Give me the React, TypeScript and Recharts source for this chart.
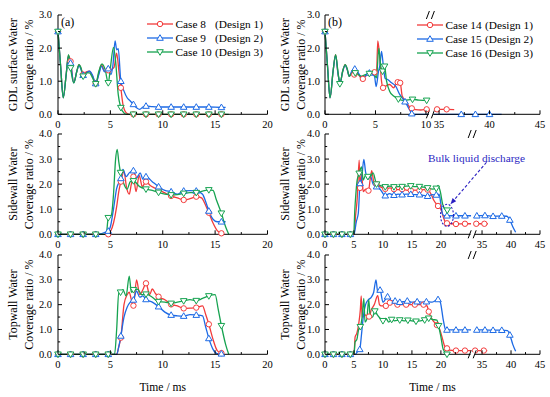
import React from 'react';
import { LineChart, Line, XAxis, YAxis, ReferenceDot, Legend } from 'recharts';

type P = [number, number, number?];

const RED = '#f23b3b';
const BLUE = '#1d6ae5';
const GREEN = '#16a350';
const ANN = '#2a1fc2';
const FONT = '"Liberation Serif", "Times New Roman", serif';

// ---------- labels ----------
const casesA = ['Case 8', 'Case 9', 'Case 10'];
const casesB = ['Case 14', 'Case 15', 'Case 16'];
const designs = ['(Design 1)', '(Design 2)', '(Design 3)'];
const yLabelGdl: [string, string] = ['GDL surface Water', 'Coverage ratio / %'];
const yLabelSide: [string, string] = ['Sidewall Water', 'Coverage ratio / %'];
const yLabelTop: [string, string] = ['Topwall Water', 'Coverage ratio / %'];
const xTitle = 'Time / ms';
const annotText = 'Bulk liquid discharge';
const annotAt: [number, number] = [21.05, 0.76];

// ---------- ticks ----------
const xMajorA = [0, 5, 10, 15, 20];
const xMinorA = [2.5, 7.5, 12.5, 17.5];
const xMajorBTop = [0, 5, 10, 35, 40, 45];
const xMinorBTop = [2.5, 7.5, 37.5, 42.5];
const xMajorB = [0, 5, 10, 15, 20, 35, 40, 45];
const xMinorB = [2.5, 7.5, 12.5, 17.5, 22.5, 37.5, 42.5];
const yMajor3 = [0, 1, 2, 3];
const yMinor3 = [0.5, 1.5, 2.5];
const yMajor4 = [0, 1, 2, 3, 4];
const yMinor4 = [0.5, 1.5, 2.5, 3.5];

// axis breaks [break at, resume at]
const breakTop: [number, number] = [10.5, 34.2];
const breakLow: [number, number] = [25.5, 33.4];

// ---------- data: [time ms, coverage %, marker?] ----------
const gdlCase8: P[] = [[0,2.5,1],[0.25,1.45],[0.5,0.5],[0.78,1.2],[1.0,1.78],[1.2,1.6,1],[1.5,0.96],[1.8,1.3],[2.0,1.5],[2.2,1.38],[2.4,1.2,1],[2.7,1.28],[3.0,1.3],[3.3,1.15],[3.6,0.93,1],[3.9,1.25],[4.15,1.5],[4.45,1.3],[4.8,1.33,1],[5.1,1.36],[5.35,1.42],[5.6,1.85],[5.8,1.35],[6.0,0.8,1],[6.2,0.3],[6.5,0.05],[6.8,0],[7.2,0,1],[8.4,0,1],[9.6,0,1],[10.8,0,1],[12.0,0,1],[13.2,0,1],[14.4,0,1],[15.6,0,1],[16.0,0]];
const gdlCase9: P[] = [[0,2.5,1],[0.25,1.45],[0.5,0.5],[0.78,1.2],[1.0,1.75],[1.2,1.55,1],[1.5,0.95],[1.8,1.3],[2.0,1.48],[2.2,1.35],[2.4,1.18,1],[2.7,1.25],[3.0,1.3],[3.3,1.18],[3.6,0.93,1],[3.9,1.2],[4.15,1.45],[4.45,1.28],[4.8,1.38,1],[5.05,1.2],[5.25,1.5],[5.45,2.22],[5.6,1.95],[5.75,1.98],[6.0,1.0,1],[6.3,0.7],[6.6,0.5],[6.9,0.4],[7.2,0.3,1],[7.5,0.2],[7.8,0.15],[8.1,0.22],[8.4,0.25,1],[9.0,0.23],[9.6,0.22,1],[10.8,0.22,1],[12.0,0.22,1],[13.2,0.22,1],[14.4,0.22,1],[15.6,0.21,1],[16.0,0.21]];
const gdlCase10: P[] = [[0,2.5,1],[0.25,1.45],[0.5,0.5],[0.78,1.2],[1.0,1.8],[1.2,1.4,1],[1.5,0.95],[1.8,1.3],[2.0,1.5],[2.2,1.4],[2.4,1.15,1],[2.7,1.25],[3.0,1.25],[3.3,1.1],[3.6,0.92,1],[3.9,1.3],[4.2,1.52],[4.5,1.35],[4.8,0.95,1],[5.0,1.4],[5.3,2.02],[5.5,1.6],[5.75,0.6],[6.0,0.2,1],[6.3,0.04],[6.6,0],[7.2,0,1],[8.4,0,1],[9.6,0,1],[10.8,0,1],[12.0,0,1],[13.2,0,1],[14.4,0,1],[15.6,0,1],[16.3,0]];

const gdlCase14: P[] = [[0,2.5,1],[0.25,1.45],[0.5,0.5],[0.8,1.3],[1.05,1.8],[1.3,1.2],[1.5,0.95],[1.75,1.3],[2.0,1.5],[2.2,1.35],[2.4,1.15],[2.65,1.25],[2.9,1.2,1],[3.2,1.25],[3.5,1.12],[3.75,1.07,1],[4.0,1.15],[4.3,1.2],[4.6,1.22],[4.9,1.27,1],[5.1,1.2],[5.23,2.22],[5.4,1.8],[5.6,1.0],[5.75,0.8,1],[6.0,0.85],[6.4,0.9],[6.8,0.8],[7.0,0.9],[7.2,0.97,1],[7.45,0.95,1],[7.65,0.55],[8.0,0.4],[8.3,0.25],[8.6,0.18,1],[9.0,0.14],[9.5,0.13],[10.07,0.15,1],[10.4,0.14],[34.5,0.14],[34.8,0.15,1],[35.75,0.15,1],[36.5,0.14]];
const gdlCase15: P[] = [[0,2.5,1],[0.25,1.45],[0.5,0.5],[0.8,1.3],[1.05,1.78],[1.3,1.2],[1.5,0.95],[1.75,1.3],[2.0,1.48],[2.2,1.35],[2.4,1.15],[2.65,1.3],[2.95,1.37,1],[3.2,1.3],[3.5,1.15],[3.8,1.1],[4.1,1.2],[4.4,1.25,1],[4.7,1.2],[4.9,1.15],[5.07,0.84],[5.3,1.3],[5.45,1.5],[5.6,1.9],[5.8,1.4],[5.95,1.09],[6.2,1.05],[6.6,0.95],[7.0,0.85],[7.4,0.6],[7.93,0.38,1],[8.3,0.18],[8.6,0.02,1],[8.8,0],[10.4,0],[34.5,0],[37.2,0,1],[38.6,0,1],[40.0,0,1],[41.2,0]];
const gdlCase16: P[] = [[0,2.5,1],[0.25,1.45],[0.5,0.5],[0.8,1.3],[1.05,1.8],[1.3,1.25],[1.47,0.92,1],[1.75,1.3],[2.0,1.5],[2.2,1.38],[2.4,1.15],[2.7,1.25],[3.0,1.25,1],[3.3,1.2],[3.6,1.15],[4.0,1.2],[4.4,1.23,1],[4.8,1.25],[5.1,1.1],[5.33,2.0],[5.5,1.5],[5.7,1.3,1],[5.9,1.45,1],[6.1,1.0],[6.4,0.7],[6.8,0.55],[7.27,0.46,1],[7.8,0.42],[8.67,0.45,1],[9.3,0.43],[10.07,0.42,1],[10.3,0.42]];

const sideCase8: P[] = [[0,0,1],[1.2,0,1],[2.4,0,1],[3.6,0,1],[4.8,0,1],[5.0,0.1],[5.3,0.45],[5.6,1.1],[5.8,1.7],[6.0,2.1,1],[6.3,2.5],[6.55,1.85],[6.8,1.6],[7.0,2.0],[7.2,2.3,1],[7.45,1.7],[7.75,2.35],[8.05,1.9],[8.4,2.1,1],[8.8,1.95],[9.2,1.85],[9.6,1.77,1],[10.2,1.65],[10.8,1.53,1],[11.4,1.45],[12.0,1.37,1],[12.6,1.42],[13.2,1.5,1],[13.7,1.45],[14.1,1.15],[14.4,0.86,1],[14.8,0.45],[15.2,0.15],[15.6,0.04,1],[15.8,0]];
const sideCase9: P[] = [[0,0,1],[1.2,0,1],[2.4,0,1],[3.6,0,1],[4.8,0.13,1],[5.0,0.3],[5.26,0.9],[5.6,1.83],[6.0,2.23,1],[6.2,2.59],[6.5,2.3],[6.8,2.45],[7.2,2.54,1],[7.5,2.25],[7.85,2.45],[8.1,2.2],[8.4,2.3,1],[9.0,2.1],[9.6,1.9,1],[10.2,1.75],[10.8,1.7,1],[11.4,1.6],[12.0,1.73,1],[12.6,1.74],[13.2,1.73,1],[13.8,1.6],[14.1,1.3],[14.4,0.93,1],[14.8,0.6],[15.2,0.5],[15.6,0.5,1],[16.0,0.5]];
const sideCase10: P[] = [[0,0,1],[1.2,0,1],[2.4,0,1],[3.6,0,1],[4.6,0],[4.8,0.66,1],[5.1,0.77],[5.3,1.6],[5.5,3.0],[5.65,3.39],[5.8,2.9],[5.97,2.46,1],[6.3,2.0],[6.6,1.8],[6.9,2.1],[7.2,2.13,1],[7.8,1.9],[8.4,1.8,1],[9.0,1.75],[9.6,1.67,1],[10.2,1.6],[10.8,1.57,1],[11.4,1.58],[12.0,1.63,1],[12.6,1.66],[13.2,1.66,1],[13.8,1.72],[14.4,1.77,1],[14.8,1.75],[15.1,1.4],[15.6,0.84,1],[16.0,0.3],[16.3,0]];

const sideCase14: P[] = [[0,0,1],[1.46,0,1],[2.92,0,1],[4.38,0,1],[5.0,0],[5.3,0.8],[5.55,1.4],[5.9,2.96],[6.05,1.85,1],[6.3,2.4],[6.6,1.7],[7.0,1.8],[7.5,1.74,1],[7.8,2.2],[8.07,2.54],[8.4,2.1],[8.9,2.0,1],[9.5,1.9],[10.4,1.81,1],[11.2,1.85],[11.9,1.8,1],[12.6,1.78],[13.3,1.8,1],[14.0,1.76],[14.8,1.75,1],[15.5,1.76],[16.3,1.75,1],[17.0,1.78],[17.7,1.78,1],[18.3,1.6],[18.8,1.35],[19.5,1.13,1],[20.0,1.0],[20.4,0.7],[20.8,0.47],[21.05,0.44,1],[22.6,0.41,1],[24.15,0.42,1],[25.2,0.42],[33.8,0.42],[34.0,0.42,1],[35.4,0.42,1],[36.0,0.42]];
const sideCase15: P[] = [[0,0,1],[1.46,0,1],[2.92,0,1],[4.38,0,1],[5.0,0],[5.4,0.5],[5.75,0.85],[6.05,2.03,1],[6.3,2.16],[6.7,2.99],[7.0,2.49],[7.45,2.2],[7.8,2.35],[8.3,2.0],[8.9,1.9,1],[9.5,1.8],[10.4,1.54,1],[11.1,1.62],[11.9,1.56,1],[12.6,1.6],[13.3,1.58,1],[14.0,1.6],[14.8,1.6,1],[15.5,1.58],[16.3,1.58,1],[17.0,1.55],[17.7,1.52,1],[18.5,1.58],[19.2,1.57,1],[19.7,1.6],[20.0,1.2],[20.3,0.8],[20.6,0.74],[21.05,0.74,1],[22.6,0.74,1],[24.15,0.74,1],[25.2,0.74],[33.8,0.74],[34.1,0.74,1],[35.5,0.75,1],[36.9,0.72,1],[38.4,0.73,1],[39.3,0.72],[39.8,0.57,1],[40.3,0.3],[40.8,0.08]];
const sideCase16: P[] = [[0,0,1],[1.46,0,1],[2.92,0,1],[4.38,0,1],[4.95,0],[5.15,1.0],[5.3,1.53],[5.55,2.16],[5.9,2.43,1],[6.3,2.69],[6.6,2.16],[7.0,2.36],[7.4,2.3,1],[7.75,2.29],[8.3,2.45],[8.9,2.0,1],[9.5,1.95],[10.4,1.89,1],[11.2,1.92],[11.9,1.89,1],[12.6,1.9],[13.3,1.9,1],[14.0,1.92],[14.8,1.93,1],[15.5,1.9],[16.3,1.9,1],[17.0,1.88],[17.7,1.85,1],[18.5,1.8],[19.2,1.83,1],[19.5,1.95],[19.9,1.7],[20.3,1.2],[20.7,1.0],[21.1,0.96,1],[21.3,0.95]];

const topCase8: P[] = [[0,0,1],[1.2,0,1],[2.4,0,1],[3.6,0,1],[4.8,0,1],[5.6,0],[5.8,0.3],[6.0,0.67,1],[6.3,2.0],[6.6,2.4],[6.8,2.5],[7.0,2.2],[7.2,1.96,1],[7.5,3.0],[7.8,2.4],[8.1,2.6],[8.4,2.86,1],[8.75,2.4],[9.0,2.63],[9.3,2.45],[9.6,2.32,1],[10.2,2.2],[10.8,2.01,1],[11.4,1.95],[12.0,1.85,1],[12.6,1.86],[13.2,1.88,1],[13.8,1.95],[14.1,1.6],[14.4,1.21,1],[14.8,0.6],[15.2,0.15],[15.6,0.05,1],[15.8,0]];
const topCase9: P[] = [[0,0,1],[1.2,0,1],[2.4,0,1],[3.6,0,1],[4.8,0,1],[5.6,0],[5.8,0.3],[6.0,0.74,1],[6.3,1.5],[6.6,1.9],[6.9,2.1],[7.2,2.19,1],[7.5,2.55],[7.8,2.3],[8.1,2.35],[8.4,2.21,1],[9.0,2.1],[9.6,1.92,1],[10.2,1.7],[10.8,1.58,1],[11.4,1.55],[12.0,1.54,1],[12.6,1.6],[13.2,1.58,1],[13.8,1.55],[14.1,1.1],[14.4,0.64,1],[14.8,0.2],[15.2,0.03],[15.6,0.02,1]];
const topCase10: P[] = [[0,0,1],[1.2,0,1],[2.4,0,1],[3.6,0,1],[4.8,0,1],[5.4,0],[5.6,1.0],[5.8,2.5],[5.97,2.5,1],[6.2,2.6],[6.5,2.35],[6.8,3.15],[7.0,2.5],[7.2,2.6,1],[7.6,2.62],[8.0,2.4],[8.4,2.42,1],[9.0,2.3],[9.6,2.12,1],[10.2,2.1],[10.8,2.05,1],[11.4,2.1],[12.0,2.15,1],[12.6,2.2],[13.2,2.16,1],[13.8,2.25],[14.4,2.35,1],[15.0,2.4],[15.3,1.8],[15.6,1.15,1],[16.0,0.4],[16.3,0]];

const topCase14: P[] = [[0,0,1],[1.46,0,1],[2.92,0,1],[4.38,0,1],[5.0,0],[5.2,0.7],[5.5,0.85],[5.8,1.2],[6.1,1.8],[6.25,2.35],[6.4,1.5],[6.8,1.6],[7.2,1.55],[7.6,1.52,1],[8.0,1.8],[8.5,2.0],[9.1,2.36],[9.4,2.0],[9.7,1.95],[10.5,1.95,1],[11.2,2.08,1],[11.9,2.05],[12.5,2.0,1],[13.3,2.0],[14.0,2.0,1],[14.8,2.0],[15.5,2.0,1],[16.3,2.0],[17.0,2.0,1],[17.6,1.95],[17.9,1.72,1],[18.5,1.4],[19.3,1.18,1],[19.8,1.0],[20.3,0.6],[20.7,0.3],[21.05,0.24,1],[21.5,0.17],[22.6,0.15,1],[24.15,0.15,1],[25.2,0.15],[33.8,0.15,1],[35.3,0.15,1],[35.9,0.15]];
const topCase15: P[] = [[0,0,1],[1.46,0,1],[2.92,0,1],[4.38,0,1],[5.2,0],[5.6,0.1],[6.0,0.2,1],[6.3,0.8],[6.6,1.5],[7.0,2.0],[7.5,2.2],[8.0,2.3],[8.4,2.5],[8.8,3.0],[9.1,2.5],[9.5,2.59,1],[10.0,2.1],[10.4,2.2],[10.8,2.32,1],[11.5,2.15],[12.1,2.15,1],[12.9,2.1,1],[13.6,2.12],[14.2,2.15,1],[15.0,2.1],[15.9,2.12,1],[16.8,2.1],[17.5,2.12,1],[18.5,2.1],[19.5,2.21,1],[19.9,2.1],[20.4,1.4],[20.8,1.0],[21.05,0.98,1],[22.6,0.98,1],[24.15,0.98,1],[25.2,0.98],[33.8,0.98],[34.1,0.98,1],[35.5,0.98,1],[36.9,0.97,1],[38.4,0.97,1],[39.4,0.95],[39.8,0.78,1],[40.3,0.4],[40.8,0.12]];
const topCase16: P[] = [[0,0,1],[1.46,0,1],[2.92,0,1],[4.38,0,1],[5.0,0],[5.2,0.5],[5.5,0.6],[5.8,1.0],[6.1,1.11,1],[6.4,1.5],[6.7,2.25],[6.9,1.3],[7.2,1.4],[7.55,2.2],[7.8,1.5],[8.2,1.5],[8.6,1.74,1],[9.0,1.6],[9.5,1.45],[10.0,1.35,1],[10.5,1.45],[11.0,1.3],[11.5,1.4,1],[12.0,1.35],[12.9,1.38,1],[13.6,1.35],[14.3,1.37,1],[15.0,1.35],[15.7,1.33,1],[16.5,1.35],[17.2,1.38,1],[17.9,1.45,1],[18.6,1.4],[19.3,1.38],[19.6,1.15,1],[20.0,0.7],[20.4,0.2],[21.05,0,1]];

// ---------- helpers ----------
type Shape = 'circle' | 'up' | 'down';
interface Series { name: string; design: string; color: string; shape: Shape; pts: P[] }

const mkSeries = (names: string[], sets: P[][]): Series[] => [
  { name: names[0], design: designs[0], color: RED, shape: 'circle', pts: sets[0] },
  { name: names[1], design: designs[1], color: BLUE, shape: 'up', pts: sets[1] },
  { name: names[2], design: designs[2], color: GREEN, shape: 'down', pts: sets[2] },
];

function Mark({ cx, cy, shape, color }: { cx: number; cy: number; shape: Shape; color: string }) {
  if (shape === 'circle') return <circle cx={cx} cy={cy} r={2.7} fill="#fff" stroke={color} strokeWidth={1} />;
  const s = 3.3;
  const pts = shape === 'up'
    ? `${cx},${cy - s} ${cx - s},${cy + s * 0.7} ${cx + s},${cy + s * 0.7}`
    : `${cx},${cy + s} ${cx - s},${cy - s * 0.7} ${cx + s},${cy - s * 0.7}`;
  return <polygon points={pts} fill="#fff" stroke={color} strokeWidth={1} />;
}

const near = (arr: number[], v: number) => arr.some((t) => Math.abs(t - v) < 1e-6);

function BreakMark(p: any) {
  const { cx, cy } = p;
  return (
    <g>
      <rect x={cx - 2.2} y={cy - 2} width={4.4} height={4} fill="#fff" />
      <line x1={cx - 4.6} y1={cy + 4} x2={cx - 1.6} y2={cy - 4} stroke="#000" strokeWidth={1} />
      <line x1={cx + 0.4} y1={cy + 4} x2={cx + 3.4} y2={cy - 4} stroke="#000" strokeWidth={1} />
    </g>
  );
}

function AnnotShape(p: any) {
  const { cx, cy } = p;
  const x1 = cx + 39.5, y1 = cy - 53, x2 = cx + 3.5, y2 = cy - 11;
  const dx = x2 - x1, dy = y2 - y1, len = Math.hypot(dx, dy);
  const ux = dx / len, uy = dy / len;
  const bx = x2 - ux * 6, by = y2 - uy * 6;
  const head = `${x2},${y2} ${bx - uy * 2.4},${by + ux * 2.4} ${bx + uy * 2.4},${by - ux * 2.4}`;
  return (
    <g>
      <ellipse cx={cx} cy={cy} rx={6.5} ry={11} fill="none" stroke={ANN} strokeWidth={1.1} strokeDasharray="2 1.6" />
      <line x1={x1} y1={y1} x2={bx} y2={by} stroke={ANN} strokeWidth={1.1} strokeDasharray="3 2" />
      <polygon points={head} fill={ANN} />
      <text x={cx - 19} y={cy - 53} fontSize={11.3} fill={ANN} fontFamily={FONT}>{annotText}</text>
    </g>
  );
}

function LegendBox({ series }: { series: Series[] }) {
  return (
    <svg width={140} height={44} style={{ display: 'block', overflow: 'visible' }}>
      {series.map((s, i) => {
        const cy = 7 + 14 * i;
        return (
          <g key={s.name}>
            <line x1={0} x2={26} y1={cy} y2={cy} stroke={s.color} strokeWidth={1.3} />
            <Mark cx={13} cy={cy} shape={s.shape} color={s.color} />
            <text x={28.5} y={cy} dominantBaseline="central" fontSize={11.3} fontFamily={FONT} fill="#000">
              {s.name}
              <tspan x={28.5 + 39.5}>{s.design}</tspan>
            </text>
          </g>
        );
      })}
    </svg>
  );
}

interface PanelProps {
  left: number; top: number; w: number; h: number; bottomH: number;
  yMax: number; yMajors: number[]; yMinors: number[];
  xEnd: number; xMajors: number[]; xMinors: number[];
  brk?: [number, number];
  series: Series[];
  yLabel: [string, string]; yLabOff: [number, number]; tickGap: number;
  tag?: string; legendAt?: [number, number]; showTime?: boolean; annot?: boolean;
}

function Panel(props: PanelProps) {
  const { left, top, w, h, bottomH, yMax, yMajors, yMinors, xEnd, xMajors, xMinors, brk, series,
    yLabel, yLabOff, tickGap, tag, legendAt, showTime, annot } = props;
  const off = brk ? brk[1] - brk[0] : 0;
  const f = (t: number) => (brk && t > brk[0] ? t - off : t);
  const inv = (x: number) => (brk && x > brk[0] + 1e-9 ? x + off : x);
  const xMaj = xMajors.map(f);
  const xAll = [...xMajors, ...xMinors].map(f).sort((a, b) => a - b);
  const yAll = [...yMajors, ...yMinors].sort((a, b) => a - b);
  const xMax = f(xEnd);
  const L = 58, T = 8, R = 8;
  const W = L + w + R, H = T + h + bottomH;
  const M = 6;

  const toData = (pts: P[]) => {
    const out: { x: number; y: number | null; m: boolean }[] = [];
    pts.forEach((p, i) => {
      if (brk && i > 0 && pts[i - 1][0] <= brk[0] && p[0] > brk[0]) out.push({ x: brk[0], y: null, m: false });
      out.push({ x: f(p[0]), y: p[1], m: !!p[2] });
    });
    return out;
  };

  const bottomTick = (p: any) => {
    const v = p.payload.value;
    const major = near(xMaj, v);
    const ay = p.y - M;
    return (
      <g>
        <line x1={p.x} x2={p.x} y1={ay} y2={ay - (major ? 4 : 2.2)} stroke="#000" strokeWidth={1} />
        {major && (
          <text x={p.x} y={ay + M} dy="0.71em" textAnchor="middle" fontSize={10.5} fontFamily={FONT} fill="#000">
            {String(Math.round(inv(v)))}
          </text>
        )}
      </g>
    );
  };
  const topTick = (p: any) => {
    const major = near(xMaj, p.payload.value);
    const ay = p.y + M;
    return <line x1={p.x} x2={p.x} y1={ay} y2={ay + (major ? 4 : 2.2)} stroke="#000" strokeWidth={1} />;
  };
  const leftTick = (p: any) => {
    const v = p.payload.value;
    const major = near(yMajors, v);
    const ax = p.x + tickGap;
    return (
      <g>
        <line x1={ax} x2={ax + (major ? 4 : 2.2)} y1={p.y} y2={p.y} stroke="#000" strokeWidth={1} />
        {major && (
          <text x={ax - tickGap} y={p.y} dominantBaseline="central" textAnchor="end" fontSize={10.5} fontFamily={FONT} fill="#000">
            {v.toFixed(1)}
          </text>
        )}
      </g>
    );
  };
  const rightTick = (p: any) => {
    const major = near(yMajors, p.payload.value);
    const ax = p.x - M;
    return <line x1={ax} x2={ax - (major ? 4 : 2.2)} y1={p.y} y2={p.y} stroke="#000" strokeWidth={1} />;
  };

  const axisLine = { stroke: '#000', strokeWidth: 1 };
  const labCy = T + h / 2;

  return (
    <div style={{ position: 'absolute', left: left - L, top: top - T, width: W, height: H }}>
      <LineChart width={W} height={H} margin={{ top: T, right: R, bottom: 0, left: 0 }}>
        <XAxis xAxisId="b" dataKey="x" type="number" domain={[0, xMax]} ticks={xAll} interval={0}
          tickSize={0} tickMargin={M} tickLine={false} height={bottomH} axisLine={axisLine} tick={bottomTick} />
        <XAxis xAxisId="t" orientation="top" type="number" domain={[0, xMax]} allowDataOverflow ticks={xAll} interval={0}
          tickSize={0} tickMargin={M} tickLine={false} height={0} axisLine={axisLine} tick={topTick} />
        <YAxis yAxisId="l" type="number" domain={[0, yMax]} ticks={yAll} interval={0}
          tickSize={0} tickMargin={tickGap} tickLine={false} width={L} axisLine={axisLine} tick={leftTick} />
        <YAxis yAxisId="r" orientation="right" type="number" domain={[0, yMax]} allowDataOverflow ticks={yAll} interval={0}
          tickSize={0} tickMargin={M} tickLine={false} width={0} axisLine={axisLine} tick={rightTick} />
        {series.map((s) => (
          <Line key={s.name} xAxisId="b" yAxisId="l" data={toData(s.pts)} dataKey="y" name={s.name}
            stroke={s.color} strokeWidth={1.3} type="monotone" isAnimationActive={false} activeDot={false}
            dot={(dp: any) =>
              dp.payload && dp.payload.m && dp.payload.y != null
                ? <Mark key={`m${dp.index}`} cx={dp.cx} cy={dp.cy} shape={s.shape} color={s.color} />
                : <g key={`n${dp.index}`} />
            } />
        ))}
        {brk && (
          <ReferenceDot xAxisId="b" yAxisId="l" x={brk[0]} y={0} ifOverflow="visible" shape={BreakMark} />
        )}
        {brk && (
          <ReferenceDot xAxisId="b" yAxisId="l" x={brk[0]} y={yMax} ifOverflow="visible" shape={BreakMark} />
        )}
        {tag && (
          <ReferenceDot xAxisId="b" yAxisId="l" x={0} y={yMax} ifOverflow="visible"
            shape={(p: any) => (
              <text x={p.cx + 3} y={p.cy + 11.5} fontSize={12} fontFamily={FONT} fill="#000">{tag}</text>
            )} />
        )}
        {annot && (
          <ReferenceDot xAxisId="b" yAxisId="l" x={annotAt[0]} y={annotAt[1]} ifOverflow="visible" shape={AnnotShape} />
        )}
        {legendAt && (
          <Legend layout="vertical" align="center" verticalAlign="middle"
            wrapperStyle={{ left: legendAt[0], top: legendAt[1], width: 140, height: 44 }}
            content={() => <LegendBox series={series} />} />
        )}
      </LineChart>
      <svg width={W} height={H} style={{ position: 'absolute', left: 0, top: 0, overflow: 'visible', pointerEvents: 'none' }}>
        {yLabel.map((s, i) => {
          const x = L - yLabOff[i];
          return (
            <text key={i} x={x} y={labCy} transform={`rotate(-90 ${x} ${labCy})`} textAnchor="middle" dominantBaseline="central"
              fontSize={12} fontFamily={FONT} fill="#000">{s}</text>
          );
        })}
        {showTime && (
          <text x={L + w / 2} y={T + h + 36.5} textAnchor="middle" fontSize={11.6} fontFamily={FONT} fill="#000">{xTitle}</text>
        )}
      </svg>
    </div>
  );
}

export default function App() {
  const A1 = mkSeries(casesA, [gdlCase8, gdlCase9, gdlCase10]);
  const A2 = mkSeries(casesA, [sideCase8, sideCase9, sideCase10]);
  const A3 = mkSeries(casesA, [topCase8, topCase9, topCase10]);
  const B1 = mkSeries(casesB, [gdlCase14, gdlCase15, gdlCase16]);
  const B2 = mkSeries(casesB, [sideCase14, sideCase15, sideCase16]);
  const B3 = mkSeries(casesB, [topCase14, topCase15, topCase16]);
  const colA = { left: 58, w: 209.5, xEnd: 20, xMajors: xMajorA, xMinors: xMinorA, yLabOff: [44.7, 28.7] as [number, number], tickGap: 6 };
  const colB = { left: 325, w: 215, xEnd: 45, yLabOff: [40, 24] as [number, number], tickGap: 5 };
  const row1 = { top: 15, h: 99.3, bottomH: 24, yMax: 3, yMajors: yMajor3, yMinors: yMinor3 };
  const row2 = { top: 134, h: 100.3, bottomH: 24, yMax: 4, yMajors: yMajor4, yMinors: yMinor4 };
  const row3 = { top: 255, h: 99.3, bottomH: 44, yMax: 4, yMajors: yMajor4, yMinors: yMinor4 };
  return (
    <div style={{ position: 'absolute', left: 0, top: 0, width: 550, height: 397, background: '#fff', fontFamily: FONT, overflow: 'hidden' }}>
      <Panel {...colA} {...row1} series={A1} yLabel={yLabelGdl} tag="(a)" legendAt={[147, 10.3]} />
      <Panel {...colA} {...row2} series={A2} yLabel={yLabelSide} />
      <Panel {...colA} {...row3} series={A3} yLabel={yLabelTop} showTime />
      <Panel {...colB} {...row1} xMajors={xMajorBTop} xMinors={xMinorBTop} brk={breakTop} series={B1} yLabel={yLabelGdl} tag="(b)" legendAt={[149.7, 11]} />
      <Panel {...colB} {...row2} xMajors={xMajorB} xMinors={xMinorB} brk={breakLow} series={B2} yLabel={yLabelSide} annot />
      <Panel {...colB} {...row3} xMajors={xMajorB} xMinors={xMinorB} brk={breakLow} series={B3} yLabel={yLabelTop} showTime />
    </div>
  );
}
